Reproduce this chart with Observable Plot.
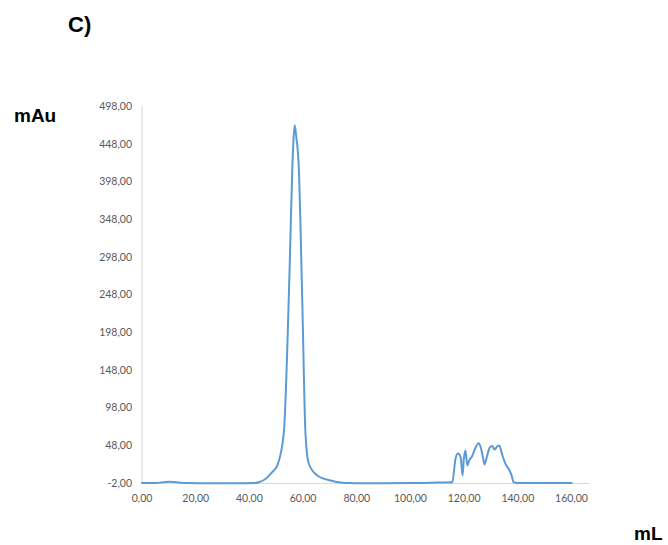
<!DOCTYPE html>
<html>
<head>
<meta charset="utf-8">
<script src="https://cdn.jsdelivr.net/npm/d3@7"></script>
<script src="https://cdn.jsdelivr.net/npm/@observablehq/plot@0.6"></script>
<style>
  html, body { margin: 0; padding: 0; background: #fff; }
  #wrap { position: relative; width: 668px; height: 545px; }
  .lbl { position: absolute; font-family: "Liberation Sans", Arial, sans-serif; font-weight: bold; color: #000; line-height: 1; white-space: nowrap; }
  #chart svg { display: block; }
</style>
</head>
<body>
<div id="wrap">
  <div id="chart"></div>
  <div class="lbl" style="left:68px; top:14px; font-size:22px;">C)</div>
  <div class="lbl" style="left:14px; top:106px; font-size:19px;">mAu</div>
  <div class="lbl" style="left:634px; top:524px; font-size:19px;">mL</div>
</div>
<script>
// Elution volume (mL)
const volume = [
  0, 5, 10, 13, 17, 25, 35, 42, 43.5,
  46, 48.5, 50.4, 52.8, 55.0, 56.0, 56.5, 56.9, 57.4, 58.4, 59.7, 60.9, 62.1, 65.3, 70.2, 73.9, 77.7,
  90, 100, 105, 110, 115.2,
  115.6, 116.8, 117.7, 118.7, 119.4, 119.9, 120.5, 121.2, 121.8, 123.0, 124.3, 125.4, 126.2, 127.1, 127.6,
  128.5, 129.6, 130.5, 131.3, 132.3, 133.1, 134.2, 135.4, 136.9, 137.7, 138.4, 141, 150, 160
];
// Absorbance (mAu)
const absorbance = [
  -1.5, -1.3, 0.3, -0.5, -1.5, -1.8, -1.8, -1.5, -0.3,
  4, 13, 21.9, 64.3, 284.5, 417, 458, 473, 460, 417, 240.7, 64.3, 24.5, 8.6, 2, -0.7, -1.5,
  -1.6, -1.5, -1.2, -0.8, -0.5,
  0, 31.2, 37.8, 32.9, 8.6, 31.2, 41.8, 21.9, 27.8, 34.5, 46.1, 51.4, 45.7, 30.8, 23.2,
  33.8, 46.1, 47.7, 43.1, 47.1, 48.4, 35.8, 24.1, 15.2, 8.6, -0.3, -1.5, -1.5, -1.5
];
const xTicks = [0, 20, 40, 60, 80, 100, 120, 140, 160];
const yTicks = [-2, 48, 98, 148, 198, 248, 298, 348, 398, 448, 498];

const data = volume.map((v, i) => ({ v, a: absorbance[i] }));
const fmt = d => d.toFixed(2).replace(".", ",");
const tickFont = "Lato, 'Open Sans', sans-serif";

const chart = Plot.plot({
  width: 668,
  height: 545,
  marginLeft: 141.5,
  marginRight: 79,
  marginTop: 106,
  marginBottom: 62,
  style: { background: "#fff", fontFamily: tickFont },
  x: { domain: [0, 166.7] },
  y: { domain: [-2, 498] },
  marks: [
    Plot.ruleY([-2], { stroke: "#d9d9d9", strokeWidth: 1 }),
    Plot.ruleX([0], { y1: -2, y2: 498, stroke: "#d9d9d9", strokeWidth: 1 }),
    Plot.axisX({ ticks: xTicks, tickFormat: fmt, tickSize: 0, tickPadding: 11, fontSize: 10.5, color: "#595959", label: null }),
    Plot.axisY({ ticks: yTicks, tickFormat: fmt, tickSize: 0, tickPadding: 10, fontSize: 10.5, color: "#595959", label: null }),
    Plot.line(data, { x: "v", y: "a", stroke: "#5B9BD5", strokeWidth: 2, curve: "monotone-x" })
  ]
});
document.getElementById("chart").appendChild(chart);
</script>
</body>
</html>
